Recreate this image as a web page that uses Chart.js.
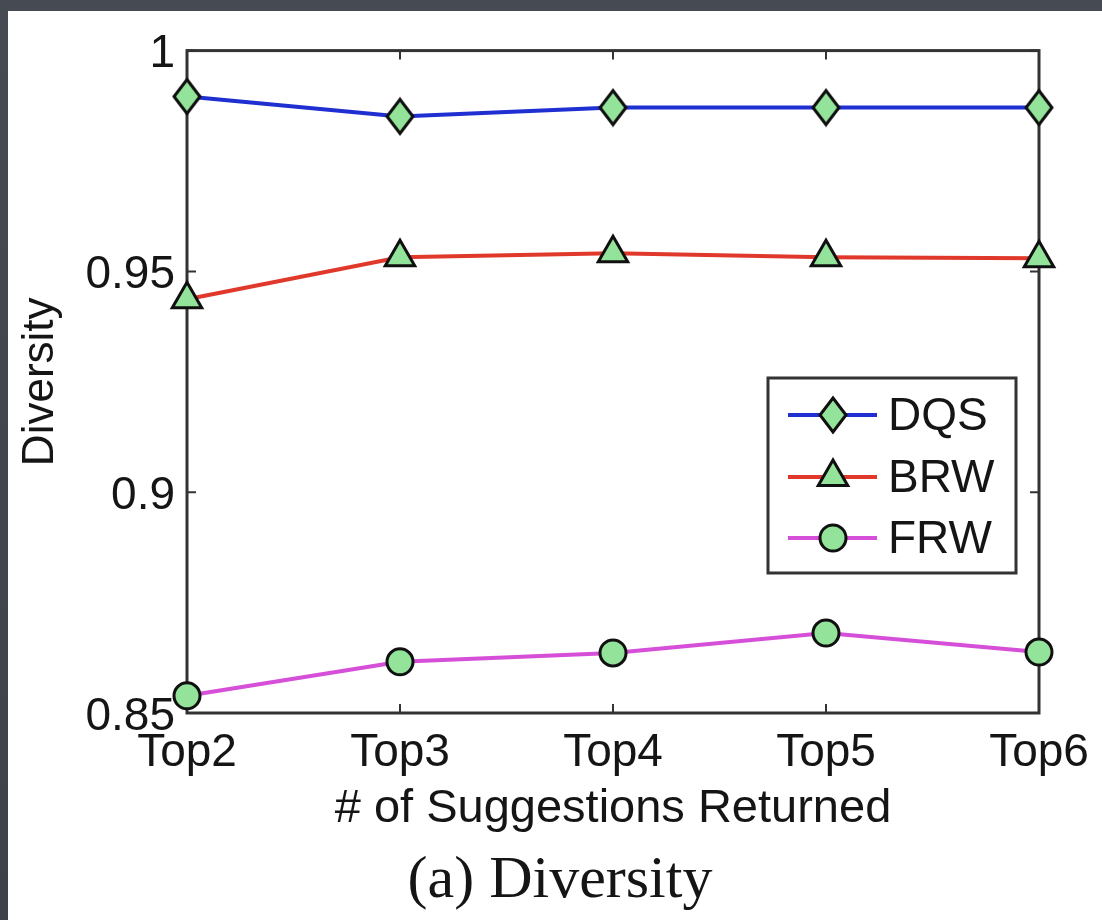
<!DOCTYPE html>
<html>
<head>
<meta charset="utf-8">
<title>Diversity</title>
<script src="https://cdn.jsdelivr.net/npm/chart.js@4.4.1/dist/chart.umd.min.js"></script>
<style>
  html, body { margin: 0; padding: 0; }
  body {
    width: 1102px; height: 920px; overflow: hidden;
    background: linear-gradient(180deg, #464a52 0%, #3d4148 100%);
    position: relative;
  }
  #panel {
    position: absolute; left: 8px; top: 11px;
    width: 1094px; height: 909px; background: #ffffff;
  }
  canvas { display: block; }
</style>
</head>
<body>
<div id="panel"><canvas id="chart" width="1094" height="909"></canvas></div>
<script>
// Categories along the x axis
const categories = ['Top2', 'Top3', 'Top4', 'Top5', 'Top6'];

// Diversity per method
const dqsValues = [0.9896, 0.9851, 0.9871, 0.9871, 0.9871];
const brwValues = [0.9437, 0.9532, 0.9541, 0.9532, 0.9530];
const frwValues = [0.8539, 0.8616, 0.8636, 0.8681, 0.8638];

// Y axis tick labels (0.85 .. 1 in steps of 0.05)
const yTickValues = [0.85, 0.9, 0.95, 1];
const yTickLabels = ['0.85', '0.9', '0.95', '1'];

const SANS = '"Liberation Sans", Arial, Helvetica, sans-serif';
const SERIF = '"Liberation Serif", "Times New Roman", serif';
const INK = '#151515';
const MARKER_FILL = '#93e39b';
const MARKER_EDGE = '#101010';

// Tall diamond marker (MATLAB style 'd')
function makeDiamond(w, h, lw) {
  const c = document.createElement('canvas');
  c.width = w + lw * 2; c.height = h + lw * 2;
  const g = c.getContext('2d');
  const cx = c.width / 2, cy = c.height / 2;
  g.beginPath();
  g.moveTo(cx, cy - h / 2);
  g.lineTo(cx + w / 2, cy);
  g.lineTo(cx, cy + h / 2);
  g.lineTo(cx - w / 2, cy);
  g.closePath();
  g.fillStyle = MARKER_FILL;
  g.fill();
  g.lineWidth = lw;
  g.lineJoin = 'miter';
  g.strokeStyle = MARKER_EDGE;
  g.stroke();
  return c;
}
const diamond = makeDiamond(26, 34, 3);

// Box frame with inward ticks on all four sides
const framePlugin = {
  id: 'frame',
  beforeDatasetsDraw(chart) {
    const { ctx, chartArea: a, scales: { x, y } } = chart;
    const T = 9;
    ctx.save();
    ctx.strokeStyle = '#333333';
    ctx.lineWidth = 3;
    ctx.strokeRect(a.left, a.top, a.right - a.left, a.bottom - a.top);
    ctx.lineWidth = 2;
    ctx.beginPath();
    x.ticks.forEach((t, i) => {
      const px = x.getPixelForTick(i);
      ctx.moveTo(px, a.bottom); ctx.lineTo(px, a.bottom - T);
      ctx.moveTo(px, a.top); ctx.lineTo(px, a.top + T);
    });
    y.ticks.forEach((t, i) => {
      const py = y.getPixelForTick(i);
      ctx.moveTo(a.left, py); ctx.lineTo(a.left + T, py);
      ctx.moveTo(a.right, py); ctx.lineTo(a.right - T, py);
    });
    ctx.stroke();
    ctx.restore();
  }
};

function drawMarker(ctx, style, x, y) {
  if (style instanceof HTMLCanvasElement) {
    ctx.drawImage(style, x - style.width / 2, y - style.height / 2);
    return;
  }
  ctx.save();
  ctx.fillStyle = MARKER_FILL;
  ctx.strokeStyle = MARKER_EDGE;
  ctx.lineWidth = 3;
  ctx.beginPath();
  if (style === 'triangle') {
    const r = 17;
    ctx.moveTo(x, y - r);
    ctx.lineTo(x + r * Math.sin(Math.PI / 3), y + r / 2);
    ctx.lineTo(x - r * Math.sin(Math.PI / 3), y + r / 2);
    ctx.closePath();
  } else {
    ctx.arc(x, y, 13, 0, Math.PI * 2);
  }
  ctx.fill();
  ctx.stroke();
  ctx.restore();
}

// Boxed legend inside the plot, line sample with marker
const legendPlugin = {
  id: 'boxLegend',
  afterDatasetsDraw(chart) {
    const { ctx } = chart;
    const box = { x: 760, y: 367, w: 248, h: 195 };
    ctx.save();
    ctx.fillStyle = '#ffffff';
    ctx.fillRect(box.x, box.y, box.w, box.h);
    ctx.strokeStyle = '#333333';
    ctx.lineWidth = 3;
    ctx.strokeRect(box.x, box.y, box.w, box.h);
    const rows = [404, 466, 527];
    chart.data.datasets.forEach((ds, i) => {
      const yy = rows[i];
      ctx.strokeStyle = ds.borderColor;
      ctx.lineWidth = 4;
      ctx.beginPath();
      ctx.moveTo(780, yy); ctx.lineTo(869, yy);
      ctx.stroke();
      drawMarker(ctx, ds.pointStyle, 825, yy);
      ctx.fillStyle = INK;
      ctx.font = '46px ' + SANS;
      ctx.textAlign = 'left';
      ctx.textBaseline = 'middle';
      ctx.fillText(ds.label, 880, yy + 2);
    });
    ctx.restore();
  }
};

// Figure caption below the axes
const captionPlugin = {
  id: 'caption',
  afterDraw(chart) {
    const { ctx } = chart;
    ctx.save();
    ctx.fillStyle = INK;
    ctx.font = '60px ' + SERIF;
    ctx.textAlign = 'center';
    ctx.textBaseline = 'alphabetic';
    ctx.fillText('(a) Diversity', 552, 886);
    ctx.restore();
  }
};

const commonPoint = {
  pointBackgroundColor: MARKER_FILL,
  pointBorderColor: MARKER_EDGE,
  pointBorderWidth: 3,
  pointHoverRadius: 13,
  borderWidth: 4,
  tension: 0,
  fill: false,
  clip: false
};

new Chart(document.getElementById('chart'), {
  type: 'line',
  data: {
    labels: categories,
    datasets: [
      Object.assign({ label: 'DQS', data: dqsValues, borderColor: '#1f2fd2', pointStyle: diamond, pointRadius: 15 }, commonPoint),
      Object.assign({ label: 'BRW', data: brwValues, borderColor: '#e0392c', pointStyle: 'triangle', pointRadius: 17 }, commonPoint),
      Object.assign({ label: 'FRW', data: frwValues, borderColor: '#d64fd8', pointStyle: 'circle', pointRadius: 13 }, commonPoint)
    ]
  },
  options: {
    responsive: false,
    animation: false,
    devicePixelRatio: 1,
    layout: { padding: { left: 0, right: 63, top: 39, bottom: 83 } },
    plugins: {
      legend: { display: false },
      tooltip: { enabled: false },
      title: { display: false }
    },
    scales: {
      x: {
        type: 'category',
        offset: false,
        grid: { display: false, drawTicks: false },
        border: { display: false },
        ticks: {
          color: INK,
          font: { family: SANS, size: 46 },
          padding: 13,
          maxRotation: 0,
          autoSkip: false
        },
        title: {
          display: true,
          text: '# of Suggestions Returned',
          color: INK,
          font: { family: SANS, size: 47 },
          padding: { top: 0, bottom: 0 }
        },
        afterFit(scale) { scale.height = 124; }
      },
      y: {
        min: 0.85,
        max: 1,
        grid: { display: false, drawTicks: false },
        border: { display: false },
        afterBuildTicks(scale) {
          scale.ticks = yTickValues.map(v => ({ value: v }));
        },
        ticks: {
          color: INK,
          font: { family: SANS, size: 46 },
          padding: 12,
          labelOffset: 4,
          callback(value) {
            const i = yTickValues.findIndex(v => Math.abs(v - value) < 1e-6);
            return i >= 0 ? yTickLabels[i] : '';
          }
        },
        title: {
          display: true,
          text: 'Diversity',
          color: INK,
          font: { family: SANS, size: 44 },
          padding: { top: 6, bottom: 0 }
        },
        afterFit(scale) { scale.width = 179; }
      }
    }
  },
  plugins: [framePlugin, legendPlugin, captionPlugin]
});
</script>
</body>
</html>
